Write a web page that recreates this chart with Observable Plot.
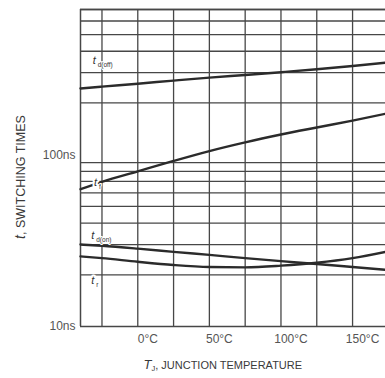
<!DOCTYPE html>
<html><head><meta charset="utf-8">
<script src="https://cdn.jsdelivr.net/npm/d3@7"></script>
<script src="https://cdn.jsdelivr.net/npm/@observablehq/plot@0.6"></script>
<style>body{margin:0;background:#fff}#chart svg{display:block}</style>
</head><body><div id="chart"></div>
<script>
// Junction temperature samples (°C)
const temps = [-40, -25, 0, 25, 50, 75, 100, 125, 150, 173];
// Switching times (ns) per series
const tdOff = [243, 249, 259, 270, 281, 291, 302, 314, 328, 343];
const tF    = [63, 69.5, 80, 92, 105, 118, 131, 144, 158, 173];
const tdOn  = [30, 29.5, 28.4, 27.2, 26.1, 25.0, 24.0, 23.1, 22.2, 21.4];
const tR    = [25.6, 25.0, 23.8, 22.8, 22.2, 22.1, 22.6, 23.5, 25.0, 27.2];
const seriesNames = ["td(off)", "tf", "td(on)", "tr"];
const seriesValues = [tdOff, tF, tdOn, tR];

// Ticks / grid
const yTicks = [10, 100];
const xTicks = [0, 50, 100, 150];
const yGrid = [20, 30, 40, 50, 60, 70, 80, 90, 200, 300, 400, 500, 600, 700];
const xGrid = [-25, 0, 25, 50, 75, 100, 125, 150];

// Curve labels (main letter + subscript) and anchors (°C, ns)
const labelMain = ["t", "t", "t", "t"];
const labelSub = ["d(off)", "f", "d(on)", "r"];
const labelT = [-31.5, -30.5, -32.5, -32.5];
const labelV = [355, 69, 34, 18.5];

const rows = [];
seriesNames.forEach((s, i) => temps.forEach((t, j) => rows.push({s, T: t, v: seriesValues[i][j]})));
const labels = labelMain.map((m, i) => ({m, sub: labelSub[i], T: labelT[i], v: labelV[i]}));

const gridColor = "#474747";
const font = "Liberation Sans, Arial, sans-serif";

const chart = Plot.plot({
  width: 385,
  height: 378,
  marginLeft: 80,
  marginRight: 0,
  marginTop: 9,
  marginBottom: 52,
  style: {fontFamily: font, background: "#fff"},
  x: {domain: [-40, 173], ticks: xTicks, tickFormat: d => d + "°C", label: null},
  y: {type: "log", domain: [10, 700], ticks: yTicks, tickFormat: d => d + "ns", label: null},
  marks: [
    Plot.ruleY(yGrid, {stroke: gridColor, strokeWidth: 1.3}),
    Plot.ruleX(xGrid, {stroke: gridColor, strokeWidth: 1.3}),
    Plot.ruleY([10, 700], {stroke: gridColor, strokeWidth: 1.5}),
    Plot.ruleX([-40], {stroke: gridColor, strokeWidth: 1.5}),
    Plot.line(rows, {x: "T", y: "v", z: "s", curve: "monotone-x", stroke: "#2b2b2b", strokeWidth: 2.4}),
    Plot.text(labels, {x: "T", y: "v", text: "m", fontStyle: "italic", fontSize: 11, fill: "#333",
      stroke: "white", strokeWidth: 4, textAnchor: "start"}),
    Plot.text(labels, {x: "T", y: "v", text: "sub", fontSize: 6.5, fill: "#333", dx: 5, dy: 4.5,
      stroke: "white", strokeWidth: 2, textAnchor: "start"}),
    Plot.axisX({ticks: xTicks, tickFormat: d => d + "°C", tickSize: 0, tickPadding: 8, dx: 10,
      fontSize: 12, color: "#555", label: null}),
    Plot.axisY({ticks: yTicks, tickFormat: d => d + "ns", tickSize: 0, tickPadding: 5,
      fontSize: 12, color: "#555", label: null}),
    Plot.text(["XLABEL"], {frameAnchor: "bottom-left", dx: 63, dy: 42, textAnchor: "start",
      fontSize: 11, fill: "#3a3a3a"}),
    Plot.text(["YLABEL"], {frameAnchor: "left", dx: -60, dy: 9, rotate: -90, textAnchor: "middle",
      fontSize: 12.5, fill: "#3a3a3a"})
  ]
});

document.getElementById("chart").appendChild(chart);

// Rich text for axis titles (italic variable + subscript)
d3.select(chart).selectAll("text").each(function () {
  const el = d3.select(this);
  const txt = this.textContent;
  if (txt === "XLABEL") {
    el.text("");
    el.append("tspan").attr("font-style", "italic").attr("font-size", 13).text("T");
    el.append("tspan").attr("font-size", 7.5).attr("dy", 2).text("J");
    el.append("tspan").attr("dy", -2).text(", JUNCTION TEMPERATURE");
  } else if (txt === "YLABEL") {
    el.text("");
    el.append("tspan").attr("font-style", "italic").attr("font-size", 14).text("t");
    el.append("tspan").text(", SWITCHING TIMES");
  }
});
</script>
</body></html>
